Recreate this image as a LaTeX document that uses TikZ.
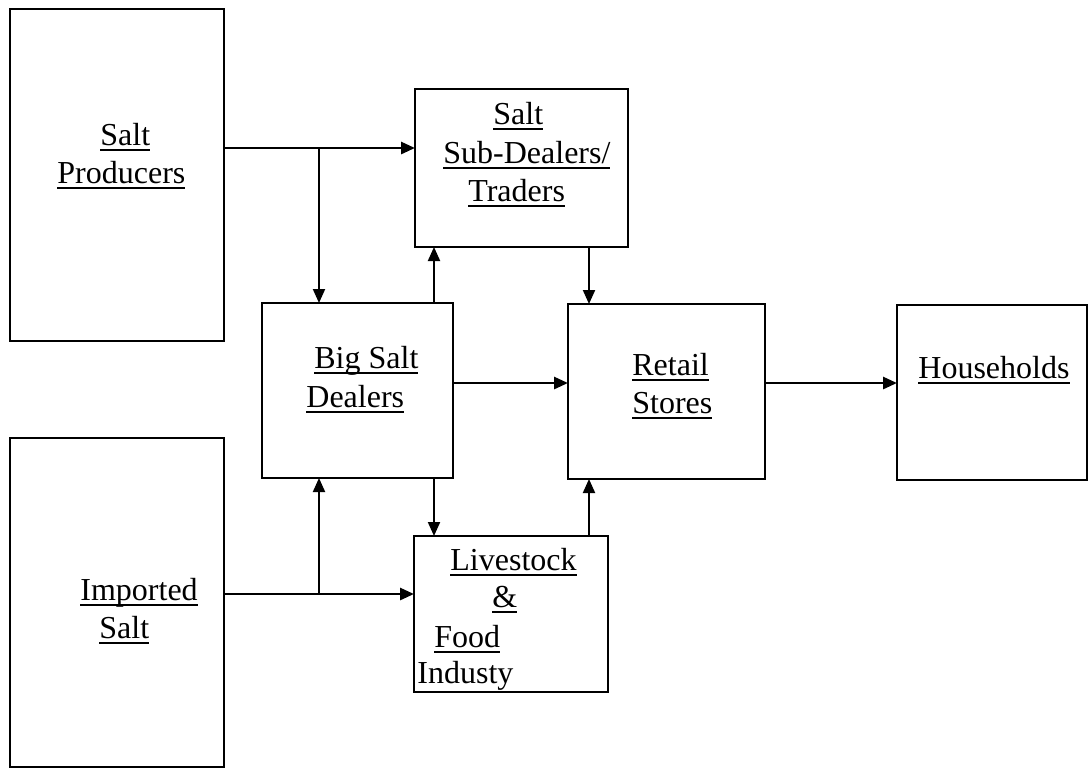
\documentclass[tikz,border=0pt]{standalone}
\usepackage{fontspec}
\setmainfont{Liberation Serif}
\usepackage{tikz}
\usetikzlibrary{arrows.meta}

\newcommand{\undl}[1]{\setbox0\hbox{#1}\rlap{\rule[-2.8pt]{\wd0}{0.7pt}}\box0}

\begin{document}
\begin{tikzpicture}[
    x=0.5pt, y=-0.5pt,
    box/.style={draw, line width=1pt, inner sep=0pt, outer sep=0pt},
    txt/.style={anchor=base west, inner sep=0pt,
                font=\fontsize{16}{19}\selectfont},
    arw/.style={-{Triangle[length=7pt, width=6pt]}, line width=1pt},
    harw/.style={arw, line width=1.4pt},
]
\useasboundingbox (0,0) rectangle (1089,768);

% --- Salt Producers ---
\node[box, minimum width=107pt, minimum height=166pt] (prod) at (117,175) {};
\node[txt] (prodA) at (100,145) {\undl{Salt}};
\node[txt] (prodB) at (57,183) {\undl{Producers}};

% --- Imported Salt ---
\node[box, minimum width=107pt, minimum height=164.5pt] (imp) at (117,602.5) {};
\node[txt] (impA) at (80,600) {\undl{Imported}};
\node[txt] (impB) at (99,638) {\undl{Salt}};

% --- Sub-Dealers ---
\node[box, minimum width=106.5pt, minimum height=79pt] (sub) at (521.5,168) {};
\node[txt] (subA) at (493,124) {\undl{Salt}};
\node[txt] (subB) at (443,163) {\undl{Sub-Dealers/}};
\node[txt] (subC) at (468,201) {\undl{Traders}};

% --- Big Salt Dealers ---
\node[box, minimum width=95.5pt, minimum height=87.5pt] (big) at (357.5,390.5) {};
\node[txt] (bigA) at (314,368) {\undl{Big Salt}};
\node[txt] (bigB) at (306,407) {\undl{Dealers}};

% --- Retail Stores ---
\node[box, minimum width=98.5pt, minimum height=87.5pt] (retail) at (666.5,391.5) {};
\node[txt] (retailA) at (632,375) {\undl{Retail}};
\node[txt] (retailB) at (632,413) {\undl{Stores}};

% --- Households ---
\node[box, minimum width=95pt, minimum height=87.5pt] (house) at (992,392.5) {};
\node[txt] (houseA) at (918,378) {\undl{Households}};

% --- Livestock & Food ---
\node[box, minimum width=97pt, minimum height=78pt] (live) at (511,614) {};
\node[txt] (liveA) at (450,570) {\undl{Livestock}};
\node[txt] (liveB) at (492,607) {\undl{\&}};
\node[txt] (liveC) at (434,647) {\undl{Food}};
\node[txt] (liveD) at (417,683) {Industy};

% --- Junctions ---
\coordinate (j1) at (319,148);
\coordinate (j2) at (319,594);
\coordinate (c1) at (434,0);
\coordinate (c2) at (589,0);
\coordinate (r1) at (0,383);

% --- Flows ---
\draw[harw] (prod.east |- j1) -- (sub.west |- j1);
\draw[arw] (j1) -- (big.north -| j1);
\draw[arw] (big.north -| c1) -- (sub.south -| c1);
\draw[arw] (sub.south -| c2) -- (retail.north -| c2);
\draw[harw] (big.east |- r1) -- (retail.west |- r1);
\draw[harw] (retail.east |- r1) -- (house.west |- r1);
\draw[harw] (imp.east |- j2) -- (live.west |- j2);
\draw[arw] (j2) -- (big.south -| j2);
\draw[arw] (big.south -| c1) -- (live.north -| c1);
\draw[arw] (live.north -| c2) -- (retail.south -| c2);
\end{tikzpicture}
\end{document}
